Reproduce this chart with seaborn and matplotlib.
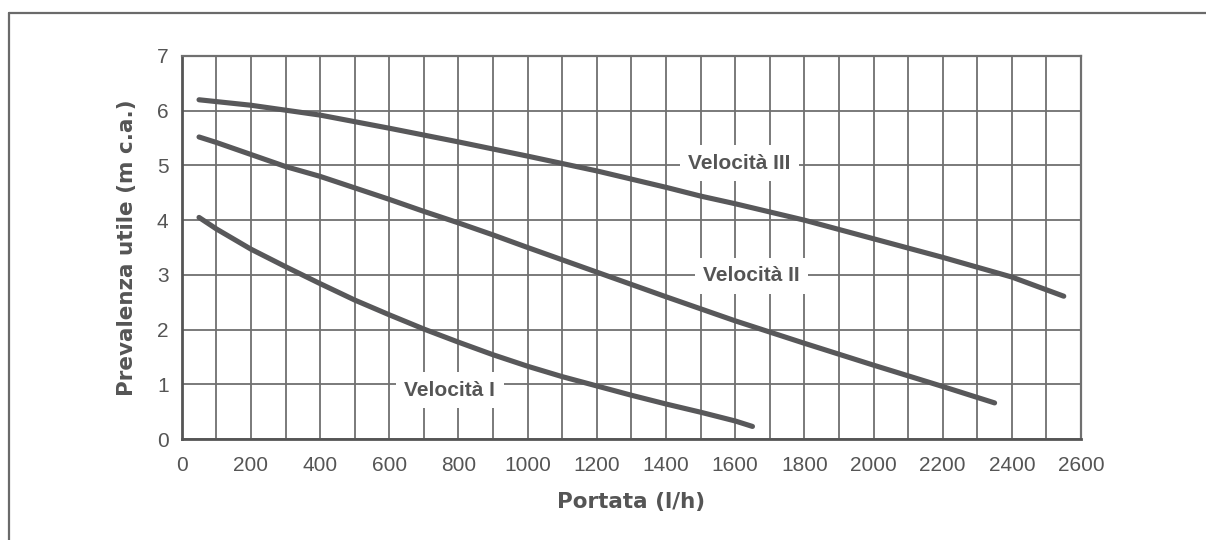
import pandas as pd
import matplotlib.pyplot as plt
import matplotlib.lines as mlines
from matplotlib.ticker import MultipleLocator
import seaborn as sns

# -----------------------------
# Dati
# -----------------------------
portata_I = [50, 100, 200, 300, 400, 500, 600, 700, 800, 900, 1000,
             1100, 1200, 1300, 1400, 1500, 1600, 1650]
prevalenza_I = [4.05, 3.84, 3.47, 3.15, 2.84, 2.54, 2.27, 2.01, 1.77, 1.54, 1.33,
                1.14, 0.97, 0.80, 0.64, 0.49, 0.33, 0.23]

portata_II = [50, 100, 200, 300, 400, 500, 600, 700, 800, 900, 1000,
              1200, 1400, 1600, 1800, 2000, 2200, 2350]
prevalenza_II = [5.52, 5.42, 5.20, 4.98, 4.80, 4.59, 4.38, 4.16, 3.95, 3.73, 3.50,
                 3.05, 2.60, 2.16, 1.75, 1.35, 0.96, 0.66]

portata_III = [50, 200, 400, 600, 800, 1000, 1200, 1400, 1500, 1600, 1800,
               2000, 2200, 2400, 2550]
prevalenza_III = [6.20, 6.10, 5.92, 5.68, 5.43, 5.17, 4.90, 4.60, 4.44, 4.30, 4.00,
                  3.66, 3.32, 2.96, 2.61]

etichette = ["Velocità I", "Velocità II", "Velocità III"]
pos_etichette = [(775, 0.89), (1647, 2.98), (1612, 5.04)]

x_ticks = list(range(0, 2601, 200))
y_ticks = list(range(0, 8))

df = pd.concat([
    pd.DataFrame({"Portata": portata_I, "Prevalenza": prevalenza_I, "Curva": etichette[0]}),
    pd.DataFrame({"Portata": portata_II, "Prevalenza": prevalenza_II, "Curva": etichette[1]}),
    pd.DataFrame({"Portata": portata_III, "Prevalenza": prevalenza_III, "Curva": etichette[2]}),
])

# -----------------------------
# Stile
# -----------------------------
sns.set_style("white")
plt.rcParams['font.family'] = ['Liberation Sans', 'DejaVu Sans']

testo = "#555555"
linea = "#58585a"
griglia = "#707070"

fig = plt.figure(figsize=(12.06, 5.40), dpi=100)
ax = fig.add_axes([0.1507, 0.187, 0.8964 - 0.1507, 0.8963 - 0.187])

sns.lineplot(data=df, x="Portata", y="Prevalenza", hue="Curva",
             palette=[linea, linea, linea], estimator=None, sort=False,
             linewidth=3.7, legend=False, ax=ax, zorder=3,
             solid_capstyle="round")

ax.set_xlim(0, 2600)
ax.set_ylim(0, 7)
ax.set_xticks(x_ticks)
ax.xaxis.set_minor_locator(MultipleLocator(100))
ax.set_yticks(y_ticks)

ax.grid(True, which="both", axis="x", color=griglia, linewidth=1.3)
ax.grid(True, which="major", axis="y", color=griglia, linewidth=1.3)
ax.set_axisbelow(True)

ax.tick_params(axis="both", which="both", direction="out", length=6,
               width=1.0, color=testo, labelcolor=testo, labelsize=15)
ax.tick_params(axis="x", which="both", pad=6.5)
ax.tick_params(axis="y", pad=3.5)

for lato in ["left", "bottom"]:
    ax.spines[lato].set_color(testo)
    ax.spines[lato].set_linewidth(2.0)
for lato in ["top", "right"]:
    ax.spines[lato].set_color(griglia)
    ax.spines[lato].set_linewidth(1.6)

ax.set_xlabel("Portata (l/h)", fontsize=15.5, fontweight="bold", color=testo,
              family="DejaVu Sans", labelpad=12)
ax.set_ylabel("Prevalenza utile (m c.a.)", fontsize=15.5, fontweight="bold",
              color=testo, family="DejaVu Sans", labelpad=14)

for nome, (px, py) in zip(etichette, pos_etichette):
    ax.text(px, py, nome, ha="center", va="center", fontsize=15,
            fontweight="bold", color=testo, zorder=4,
            bbox=dict(facecolor="white", edgecolor="none", pad=6))

# cornice attorno alla figura (aperta a destra e in basso)
x0, y0 = 8.5 / 1206, 1 - 12.5 / 540
fig.add_artist(mlines.Line2D([x0, x0], [0, y0], color="#6a6a6a", linewidth=1.6))
fig.add_artist(mlines.Line2D([x0, 1], [y0, y0], color="#6a6a6a", linewidth=1.6))

plt.savefig("out.png", dpi=100)
